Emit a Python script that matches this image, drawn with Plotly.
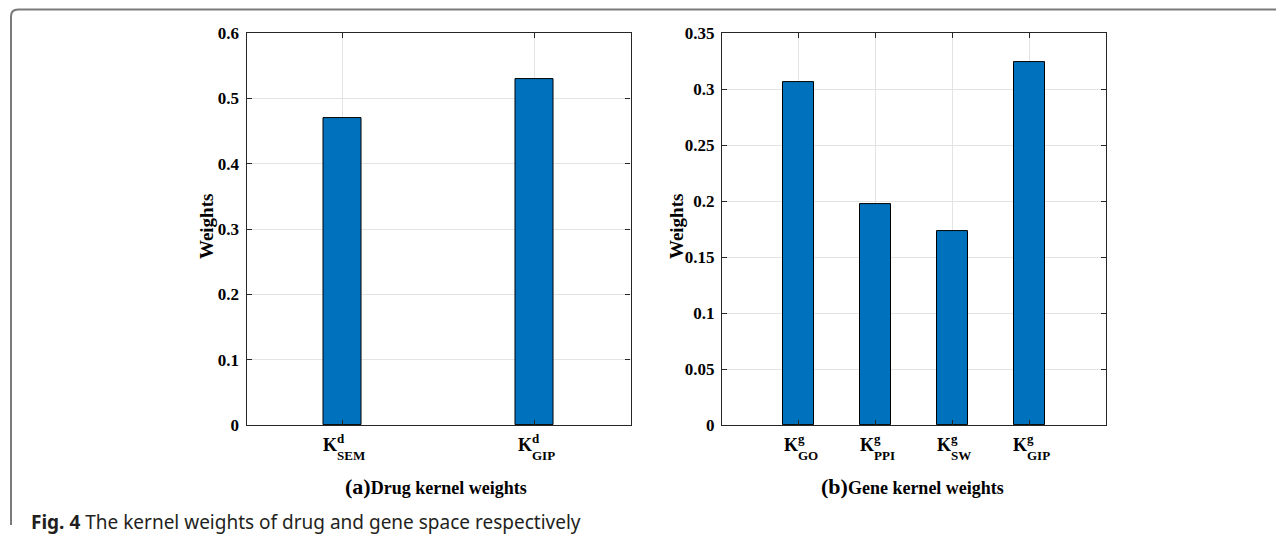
import plotly.graph_objects as go

# ---- data ----
drug_sup = "d"
drug_subs = ["SEM", "GIP"]
drug_weights = [0.47, 0.53]

gene_sup = "g"
gene_subs = ["GO", "PPI", "SW", "GIP"]
gene_weights = [0.306, 0.197, 0.173, 0.324]

drug_yticks = [0, 0.1, 0.2, 0.3, 0.4, 0.5, 0.6]
drug_yticklabels = ["0", "0.1", "0.2", "0.3", "0.4", "0.5", "0.6"]
gene_yticks = [0, 0.05, 0.1, 0.15, 0.2, 0.25, 0.3, 0.35]
gene_yticklabels = ["0", "0.05", "0.1", "0.15", "0.2", "0.25", "0.3", "0.35"]

panel_titles = ["(a)", "(b)"]
panel_texts = ["Drug kernel weights", "Gene kernel weights"]
y_title = "Weights"
caption_bold = "Fig. 4"
caption_rest = " The kernel weights of drug and gene space respectively"

# page body keeps an 8px margin, so the figure is sized to fit inside the window
PAGE_W, PAGE_H, OFF = 1284, 543, 8
W, H = PAGE_W - 2 * OFF, PAGE_H - 2 * OFF
SERIF = "Liberation Serif, Times New Roman, serif"
BAR = "#0072BD"
AX = "#262626"
GRID = "#e3e3e3"

# empirical vertical correction of the captured page
V_OFF, V_SCALE = 9.2, 0.964


def px_x(p):
    return (p - OFF) / W


def px_y(t):
    p = (t - V_OFF) / V_SCALE
    return 1 - (p - OFF) / H


drug_x = list(range(1, len(drug_subs) + 1))
gene_x = list(range(1, len(gene_subs) + 1))

fig = go.Figure()
fig.add_trace(go.Bar(x=drug_x, y=drug_weights, width=0.2, marker=dict(color=BAR, line=dict(color="#000000", width=1)),
                     xaxis="x", yaxis="y", showlegend=False, hoverinfo="y"))
fig.add_trace(go.Bar(x=gene_x, y=gene_weights, width=0.4, marker=dict(color=BAR, line=dict(color="#000000", width=1)),
                     xaxis="x2", yaxis="y2", showlegend=False, hoverinfo="y"))

common_axis = dict(showline=True, linecolor=AX, linewidth=1.2, mirror="ticks", ticks="inside", ticklen=5,
                   tickcolor=AX, showgrid=True, gridcolor=GRID, gridwidth=1, zeroline=False,
                   tickfont=dict(family=SERIF, size=17, color="#000000", weight="bold"))

y_top, y_bot = 33, 425
fig.update_layout(
    width=W, height=H, margin=dict(l=0, r=0, t=0, b=0),
    paper_bgcolor="white", plot_bgcolor="white", bargap=0,
    xaxis=dict(domain=[px_x(246.5), px_x(630.5)], range=[0.5, 2.5], tickvals=drug_x, showticklabels=False,
               anchor="y", **common_axis),
    yaxis=dict(domain=[px_y(y_bot), px_y(y_top)], range=[0, 0.6], tickvals=drug_yticks, ticktext=drug_yticklabels,
               anchor="x", ticklabelstandoff=3, **common_axis),
    xaxis2=dict(domain=[px_x(722), px_x(1106)], range=[0, 5], tickvals=gene_x, showticklabels=False,
                anchor="y2", **common_axis),
    yaxis2=dict(domain=[px_y(y_bot), px_y(y_top)], range=[0, 0.35], tickvals=gene_yticks, ticktext=gene_yticklabels,
                anchor="x2", ticklabelstandoff=3, **common_axis),
)

# approximate Times-Bold character widths (em)
CW = {"S": 0.556, "E": 0.667, "M": 0.944, "G": 0.778, "I": 0.389, "P": 0.611, "O": 0.778, "W": 1.0, "K": 0.778}
K_SIZE = 18
SUB_SIZE = 13

annotations = []


def add_labels(xref, xs, sup, subs):
    for xv, sub in zip(xs, subs):
        kw = CW["K"] * K_SIZE
        sw = sum(CW.get(c, 0.6) for c in sub) * SUB_SIZE
        left = -(kw + sw) / 2
        annotations.append(dict(x=xv, y=px_y(445), xref=xref, yref="paper", text="<b>K</b>", showarrow=False,
                                xanchor="left", yanchor="middle", xshift=left,
                                font=dict(family=SERIF, size=K_SIZE, color="#000000")))
        annotations.append(dict(x=xv, y=px_y(438), xref=xref, yref="paper", text="<b>%s</b>" % sup, showarrow=False,
                                xanchor="left", yanchor="middle", xshift=left + kw,
                                font=dict(family=SERIF, size=SUB_SIZE, color="#000000")))
        annotations.append(dict(x=xv, y=px_y(455), xref=xref, yref="paper", text="<b>%s</b>" % sub, showarrow=False,
                                xanchor="left", yanchor="middle", xshift=left + kw,
                                font=dict(family=SERIF, size=SUB_SIZE, color="#000000")))


add_labels("x", drug_x, drug_sup, drug_subs)
add_labels("x2", gene_x, gene_sup, gene_subs)

# y titles
for xc in (206, 676):
    annotations.append(dict(x=px_x(xc), y=px_y(227), xref="paper", yref="paper", text="<b>%s</b>" % y_title,
                            showarrow=False, textangle=-90, xanchor="center", yanchor="middle",
                            font=dict(family=SERIF, size=19, color="#000000")))

# panel titles
for xc, pt, tx in zip((436, 912), panel_titles, panel_texts):
    annotations.append(dict(x=px_x(xc), y=px_y(486), xref="paper", yref="paper",
                            text="<b><span style='font-size:22px'>%s</span>%s</b>" % (pt, tx),
                            showarrow=False, xanchor="center", yanchor="middle",
                            font=dict(family=SERIF, size=18, color="#000000")))

# caption
annotations.append(dict(x=px_x(29), y=px_y(522), xref="paper", yref="paper",
                        text="<b>%s</b>%s" % (caption_bold, caption_rest), showarrow=False,
                        xanchor="left", yanchor="middle",
                        font=dict(family="Noto Sans, Open Sans, sans-serif", size=19, color="#231f20")))

fig.update_layout(annotations=annotations)

# outer rounded frame (top and left edges)
x0, y0, r = 11, 9.5, 7
path = "M %f %f L %f %f Q %f %f %f %f L %f %f" % (
    1.0, px_y(y0), px_x(x0 + r), px_y(y0), px_x(x0), px_y(y0), px_x(x0), px_y(y0 + r), px_x(x0), 0.0)
fig.add_shape(type="path", path=path, xref="paper", yref="paper", line=dict(color="#7a7a7a", width=2))

fig.write_html("out.html")
